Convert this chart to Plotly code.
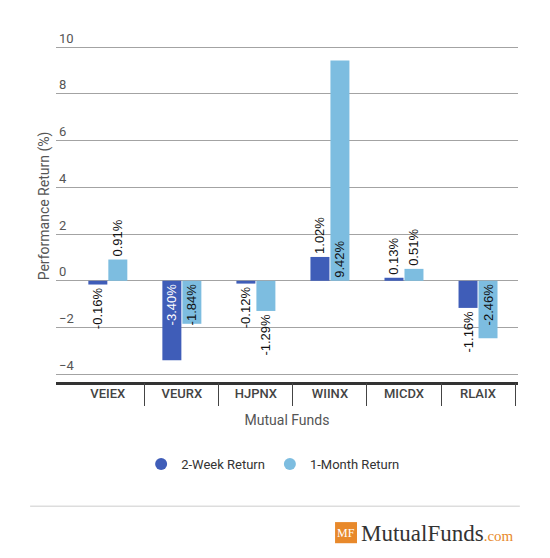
import plotly.graph_objects as go

funds = ["VEIEX", "VEURX", "HJPNX", "WIINX", "MICDX", "RLAIX"]
two_week = [-0.16, -3.40, -0.12, 1.02, 0.13, -1.16]
one_month = [0.91, -1.84, -1.29, 9.42, 0.51, -2.46]
series_names = ["2-Week Return", "1-Month Return"]
y_ticks = [-4, -2, 0, 2, 4, 6, 8, 10]

DARK = "#3F5DB8"
LIGHT = "#7DBDE0"
TEXT = "#111111"


def positions(vals):
    return ["inside" if abs(v) > 1.5 else "outside" for v in vals]


def labels(vals, inside_col):
    out = []
    for v, p in zip(vals, positions(vals)):
        c = inside_col if p == "inside" else TEXT
        out.append(f"<span style='color:{c}'>{v:.2f}%</span>")
    return out


fig = go.Figure()
for name, vals, color, inside_col in [
    (series_names[0], two_week, DARK, "#FFFFFF"),
    (series_names[1], one_month, LIGHT, TEXT),
]:
    fig.add_trace(go.Bar(
        x=funds, y=vals, name=name, marker=dict(color=color, line=dict(width=0)),
        text=labels(vals, inside_col), textposition=positions(vals), textangle=-90,
        insidetextanchor="start",
        insidetextfont=dict(color=inside_col, size=13, family="Liberation Sans"),
        outsidetextfont=dict(color=TEXT, size=13, family="Liberation Sans"),
        constraintext="none",
        cliponaxis=False, showlegend=False,
    ))
    fig.add_trace(go.Scatter(
        x=[None], y=[None], mode="markers", name=name,
        marker=dict(symbol="circle", size=17, color=color),
    ))

n = len(funds)
fig.add_trace(go.Scatter(x=[None], y=[None], xaxis="x2", showlegend=False))

fig.update_layout(
    width=542, height=550,
    margin=dict(l=48, r=32, t=22, b=176),
    paper_bgcolor="white", plot_bgcolor="white",
    font=dict(family="Roboto", color="#444444"),
    barmode="group", bargap=0.46, bargroupgap=0.05,
    xaxis=dict(
        type="category", range=[-0.70, n - 0.46],
        showline=True, linecolor="#333333", linewidth=3,
        ticks="", showgrid=False, ticklabelstandoff=-3,
        tickfont=dict(size=13, color="#444444", family="Roboto", weight=500),
        title=dict(text="Mutual Funds", font=dict(size=14, color="#555555"), standoff=16),
    ),
    xaxis2=dict(
        overlaying="x", anchor="y", side="bottom", range=[-0.70, n - 0.46],
        tickmode="array", tickvals=[i - 0.5 for i in range(n + 1)],
        ticks="outside", ticklen=23, tickcolor="#444444", tickwidth=1,
        showticklabels=False, showgrid=False, showline=False, zeroline=False,
    ),
    yaxis=dict(
        range=[-4.33, 10.73], tickmode="array", tickvals=y_ticks,
        ticklabelposition="inside top", ticks="",
        tickfont=dict(size=13, color="#555555", family="Roboto"),
        showgrid=True, gridcolor="#A3A3A3", gridwidth=1,
        zeroline=True, zerolinecolor="#A3A3A3", zerolinewidth=1,
        title=dict(text="Performance Return (%)", font=dict(size=14, color="#555555"), standoff=6),
    ),
    legend=dict(
        orientation="h", x=0.47, xanchor="center", y=-0.233, yanchor="middle",
        font=dict(size=13, color="#333333", family="Roboto"), itemsizing="constant",
    ),
)

fig.add_shape(type="line", xref="paper", yref="paper", x0=-0.056, x1=1.004,
              y0=-0.353, y1=-0.353, line=dict(color="#DDDDDD", width=1.5))
fig.add_shape(type="rect", xref="paper", yref="paper", x0=0.604, x1=0.6515,
              y0=-0.458, y1=-0.398, fillcolor="#E8892B", line=dict(width=0), layer="below")
fig.add_annotation(xref="paper", yref="paper", x=0.628, y=-0.428, xanchor="center", yanchor="middle",
                   text="MF", showarrow=False,
                   font=dict(family="Liberation Serif", size=12, color="#FFFFFF"))
fig.add_annotation(xref="paper", yref="paper", x=0.655, y=-0.43, xanchor="left", yanchor="middle",
                   text="MutualFunds<span style='color:#E8892B;font-size:15px'>.com</span>",
                   showarrow=False, font=dict(family="Liberation Serif", size=23, color="#333333"))

fig.write_html("out.html")
